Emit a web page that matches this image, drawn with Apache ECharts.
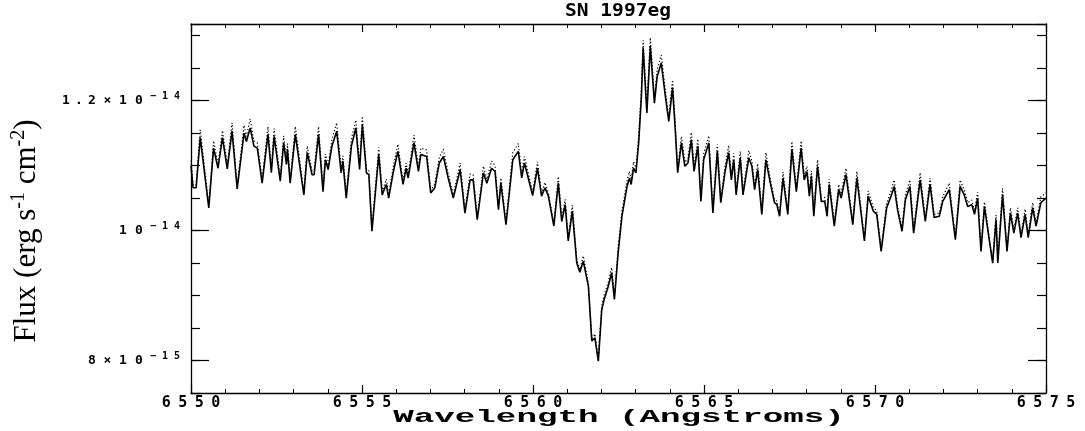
<!DOCTYPE html>
<html><head><meta charset="utf-8">
<script src="https://cdn.jsdelivr.net/npm/echarts@6/dist/echarts.min.js"></script>
<style>html,body{margin:0;padding:0;background:#fff}#c{width:1085px;height:431px}</style>
</head><body><div id="c"></div>
<script>
// Wavelength in Angstroms
const wavelength = [
6550.00,6550.06,6550.15,6550.27,6550.52,6550.66,6550.79,6550.92,6551.06,6551.20,
6551.35,6551.55,6551.62,6551.73,6551.84,6551.94,6552.08,6552.25,6552.35,6552.43,
6552.61,6552.71,6552.79,6552.82,6552.90,6553.05,6553.30,6553.40,6553.54,6553.60,
6553.73,6553.86,6553.93,6554.01,6554.12,6554.26,6554.39,6554.44,6554.54,6554.69,
6554.82,6554.93,6555.01,6555.13,6555.20,6555.29,6555.49,6555.59,6555.71,6555.78,
6555.91,6556.05,6556.20,6556.29,6556.35,6556.52,6556.65,6556.72,6556.89,6557.01,
6557.13,6557.26,6557.38,6557.52,6557.67,6557.87,6558.01,6558.16,6558.25,6558.37,
6558.55,6558.65,6558.79,6558.89,6558.99,6559.06,6559.21,6559.41,6559.57,6559.67,
6559.75,6559.99,6560.13,6560.25,6560.35,6560.45,6560.61,6560.74,6560.84,6560.94,
6561.03,6561.15,6561.28,6561.37,6561.47,6561.62,6561.72,6561.81,6561.91,6562.01,
6562.08,6562.20,6562.30,6562.38,6562.49,6562.60,6562.75,6562.82,6562.87,6562.94,
6563.01,6563.09,6563.17,6563.22,6563.33,6563.43,6563.55,6563.63,6563.75,6563.87,
6563.97,6564.08,6564.16,6564.23,6564.34,6564.44,6564.53,6564.63,6564.71,6564.82,
6564.91,6564.99,6565.14,6565.26,6565.39,6565.49,6565.61,6565.72,6565.80,6565.87,
6565.94,6566.06,6566.14,6566.31,6566.40,6566.48,6566.57,6566.69,6566.81,6566.94,
6567.06,6567.13,6567.21,6567.31,6567.45,6567.57,6567.70,6567.84,6567.93,6568.01,
6568.08,6568.14,6568.21,6568.32,6568.43,6568.53,6568.60,6568.66,6568.81,6568.94,
6569.01,6569.15,6569.35,6569.47,6569.69,6569.80,6569.95,6570.05,6570.18,6570.34,
6570.47,6570.56,6570.66,6570.79,6570.89,6571.02,6571.13,6571.32,6571.47,6571.61,
6571.73,6571.88,6571.98,6572.17,6572.35,6572.49,6572.61,6572.71,6572.83,6572.91,
6573.00,6573.10,6573.20,6573.34,6573.44,6573.54,6573.59,6573.73,6573.86,6573.96,
6574.06,6574.17,6574.27,6574.39,6574.48,6574.61,6574.71,6574.85,6575.00
];
// Flux, solid line, in units of 1e-15 erg s^-1 cm^-2
const flux = [
11.00,10.66,10.66,11.43,10.35,11.27,10.96,11.43,10.95,11.53,
10.64,11.50,11.37,11.58,11.30,11.27,10.73,11.48,10.89,11.45,
10.76,11.35,11.02,11.25,10.73,11.48,10.55,11.20,10.86,10.86,
11.48,10.60,11.09,10.94,11.30,11.53,10.89,11.07,10.50,11.30,
11.58,10.94,11.63,10.89,10.86,9.99,11.17,10.55,10.71,10.50,
10.89,11.22,10.71,10.96,10.81,11.35,10.91,11.17,11.14,10.58,
10.66,11.04,11.14,10.81,10.50,10.94,10.27,10.78,10.78,10.17,
10.89,10.73,10.96,10.91,10.32,10.73,10.09,11.09,11.22,10.81,
11.04,10.54,10.96,10.53,10.66,10.53,10.07,10.73,10.14,10.40,
9.84,10.30,9.50,9.36,9.53,9.14,8.30,8.35,7.99,8.78,
8.94,9.14,9.35,8.94,9.66,10.22,10.68,10.81,10.71,10.96,
10.89,11.35,12.07,12.81,11.81,12.84,11.96,12.37,12.58,12.07,
11.68,12.20,11.55,10.89,11.35,10.99,11.04,11.40,10.91,11.30,
10.45,11.09,11.35,10.27,11.22,10.43,10.89,11.20,10.78,11.09,
10.55,11.12,10.55,11.12,10.99,10.63,10.94,10.25,11.09,10.73,
10.43,10.40,10.22,10.81,10.25,11.25,10.60,11.27,10.78,10.91,
10.53,10.84,10.22,10.99,10.45,10.45,10.22,10.71,10.07,10.63,
10.50,10.86,10.09,10.81,9.84,10.53,10.30,10.25,9.68,10.35,
10.53,10.68,10.32,9.99,10.48,10.68,9.96,10.78,10.14,10.71,
10.20,10.22,10.45,10.63,9.86,10.68,10.55,10.37,10.40,10.25,
10.50,9.68,10.37,9.86,9.50,10.17,9.50,10.55,9.68,10.27,
9.96,10.27,9.89,10.25,9.89,10.35,10.07,10.43,10.50
];
// Flux, dotted line, in units of 1e-15 erg s^-1 cm^-2
const fluxUpper = [
11.08,10.70,10.71,11.55,10.39,11.38,11.02,11.54,11.01,11.66,
10.69,11.62,11.45,11.72,11.38,11.35,10.78,11.60,10.95,11.57,
10.81,11.46,11.07,11.34,10.77,11.60,10.59,11.30,10.92,10.93,
11.60,10.65,11.18,11.00,11.40,11.66,10.95,11.15,10.55,11.41,
11.70,11.00,11.76,10.95,10.92,10.03,11.28,10.60,10.79,10.55,
10.97,11.33,10.76,11.04,10.87,11.47,10.97,11.27,11.24,10.62,
10.72,11.13,11.25,10.88,10.55,11.04,10.31,10.87,10.86,10.21,
10.99,10.79,11.07,11.00,10.36,10.81,10.13,11.20,11.34,10.88,
11.14,10.59,11.06,10.58,10.74,10.58,10.11,10.83,10.18,10.48,
9.88,10.39,9.55,9.40,9.61,9.19,8.34,8.41,8.02,8.84,
9.01,9.21,9.43,8.99,9.74,10.30,10.77,10.91,10.78,11.06,
10.97,11.45,12.18,12.93,11.89,12.97,12.05,12.48,12.70,12.16,
11.74,12.32,11.63,10.94,11.45,11.05,11.11,11.51,10.97,11.41,
10.50,11.18,11.46,10.31,11.33,10.48,10.97,11.31,10.84,11.19,
10.60,11.22,10.60,11.23,11.07,10.68,11.03,10.29,11.20,10.79,
10.48,10.45,10.26,10.90,10.29,11.37,10.65,11.38,10.84,10.99,
10.58,10.92,10.26,11.09,10.50,10.51,10.26,10.79,10.11,10.71,
10.56,10.96,10.13,10.91,9.88,10.61,10.36,10.30,9.72,10.42,
10.61,10.78,10.38,10.03,10.55,10.78,10.00,10.89,10.19,10.81,
10.25,10.27,10.52,10.73,9.90,10.78,10.62,10.43,10.47,10.30,
10.59,9.72,10.44,9.90,9.54,10.24,9.54,10.65,9.72,10.35,
10.01,10.35,9.94,10.33,9.94,10.43,10.12,10.52,10.58
];
const xTickLabels = ['6550','6555','6560','6565','6570','6575'];
const yTickValues = [8, 10, 12];
const yTickMantissa = ['8×10', '10', '1.2×10'];
const yTickExponent = ['−15', '−14', '−14'];
const titleText = 'SN 1997eg';
const xName = 'Wavelength (Angstroms)';

const chart = echarts.init(document.getElementById('c'), null, {renderer: 'canvas'});
const black = '#000';
const monoFont = 'DejaVu Sans Mono';
const yMin = 7.5, yMax = 13.18;
const xMin = 6550, xMax = 6575;
// wrap each character in a rich token so the wide PGPLOT-style spacing can be imitated
const spread = (s, st) => Array.from(s).map(c => {
  const k = c === '.' ? st + 'p' : (c === '×' ? st + 'x' : st);
  return '{' + k + '|' + c + '}';
}).join('');
const tok = (w, fs, lh, extra) => Object.assign({width: w, align: 'center', fontFamily: monoFont, fontSize: fs, lineHeight: lh, fontWeight: 'bold', color: black}, extra || {});

function xAx(pos, showLabel) {
  return {
    type: 'value', position: pos, min: xMin, max: xMax, interval: 5,
    axisLine: {show: true, onZero: false, lineStyle: {color: black, width: 1.3}},
    axisTick: {show: true, inside: true, length: 8, lineStyle: {color: black, width: 1.2}},
    minorTick: {show: true, splitNumber: 5, length: 4, lineStyle: {color: black, width: 1}},
    splitLine: {show: false},
    axisLabel: showLabel ? {
      show: true, margin: 3, color: black,
      formatter: v => { const t = xTickLabels[Math.round((v - xMin) / 5)]; return t ? spread(t, 'd') : ''; },
      rich: {d: tok(16.5, 15, 14)}
    } : {show: false}
  };
}
function yAx(pos, major, showLabel) {
  const o = {
    type: 'value', position: pos, min: yMin, max: yMax,
    splitLine: {show: false},
    axisLine: {show: !major, onZero: false, lineStyle: {color: black, width: 1.3}},
    axisTick: {show: true, inside: true, length: major ? 18 : 9, lineStyle: {color: black, width: 1.2}},
    axisLabel: {show: false}
  };
  if (major) {
    o.axisTick.customValues = yTickValues;
  } else {
    o.interval = 0.5;
  }
  if (showLabel) {
    o.axisLabel = {
      show: true, margin: 8, color: black,
      customValues: yTickValues,
      formatter: v => {
        const i = yTickValues.indexOf(Math.round(v));
        return i < 0 ? '' : spread(yTickMantissa[i], 'm') + spread(yTickExponent[i], 's');
      },
      rich: {
        m: tok(16, 13, 18), mp: tok(10, 13, 18), mx: tok(15, 13, 18),
        s: tok(12, 10, 10, {verticalAlign: 'top'})
      }
    };
  }
  return o;
}

chart.setOption({
  animation: false,
  backgroundColor: '#fff',
  grid: {left: 191, right: 39, top: 24, bottom: 38, containLabel: false, outerBoundsMode: 'none'},
  xAxis: [xAx('bottom', true), xAx('top', false)],
  yAxis: [yAx('left', false, true), yAx('left', true, false), yAx('right', false, false), yAx('right', true, false)],
  graphic: [
    {
      type: 'text', x: 618, y: 12, scaleX: 1.15,
      style: {text: titleText, fill: black, font: 'bold 17px "DejaVu Sans Mono"', align: 'center', verticalAlign: 'middle'}
    },
    {
      type: 'text', x: 619, y: 417, scaleX: 1.9,
      style: {text: xName, fill: black, font: 'bold 18px "Liberation Mono"', align: 'center', verticalAlign: 'middle'}
    },
    {
      type: 'text', x: 27, y: 231, rotation: Math.PI / 2,
      style: {
        text: 'Flux (erg s{s|-1} cm{s|-2})', fill: black, align: 'center', verticalAlign: 'middle',
        fontFamily: 'Liberation Serif', fontSize: 31, lineHeight: 36,
        rich: {s: {fontFamily: 'Liberation Serif', fontSize: 20, lineHeight: 22, verticalAlign: 'top', fill: black}}
      }
    }
  ],
  series: [
    {
      type: 'line', name: 'upper', xAxisIndex: 0, yAxisIndex: 0,
      data: wavelength.map((w, i) => [w, fluxUpper[i]]),
      showSymbol: false, symbol: 'none',
      lineStyle: {color: black, width: 1.2, type: [1.2, 2.2]}, z: 2
    },
    {
      type: 'line', name: 'flux', xAxisIndex: 0, yAxisIndex: 0,
      data: wavelength.map((w, i) => [w, flux[i]]),
      showSymbol: false, symbol: 'none',
      lineStyle: {color: black, width: 1.6}, z: 3
    }
  ]
});
</script></body></html>
